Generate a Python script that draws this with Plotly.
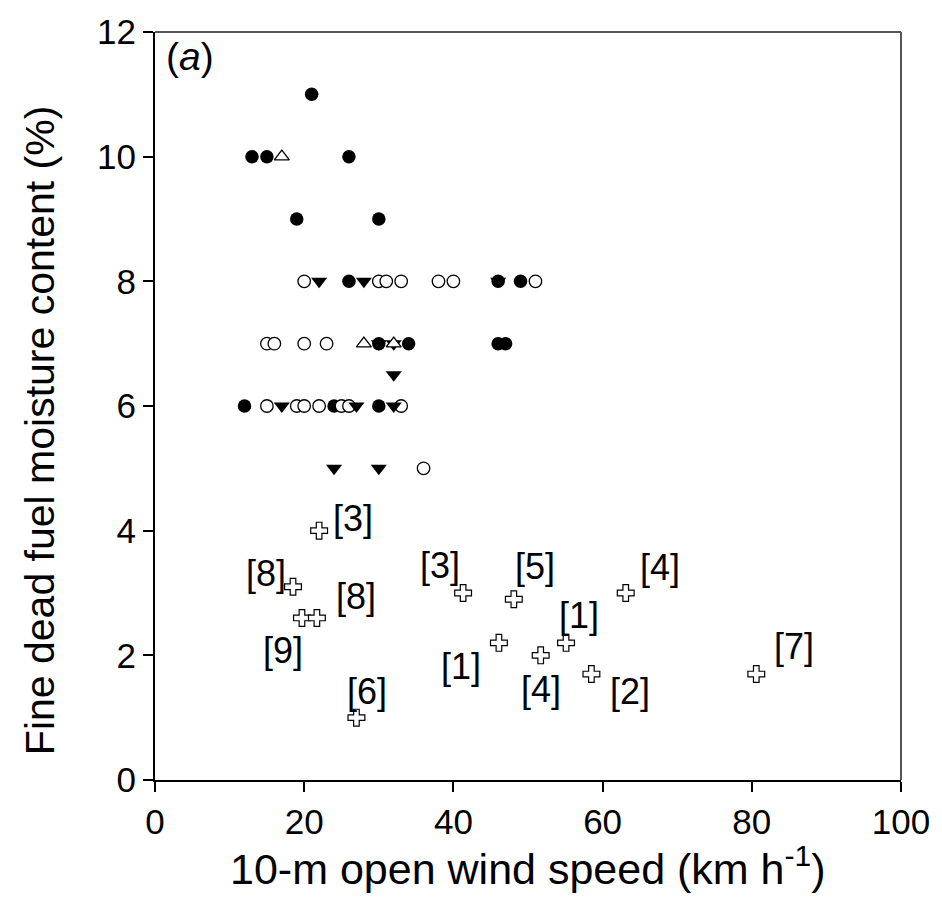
import plotly.graph_objects as go

# Filled circles
filled_x = [21, 13, 15, 26, 19, 30, 26, 46, 49, 30, 34, 46, 47, 12, 24, 30]
filled_y = [11, 10, 10, 10, 9, 9, 8, 8, 8, 7, 7, 7, 7, 6, 6, 6]

# Open circles
open_x = [20, 30, 31, 33, 38, 40, 51, 15, 16, 20, 23, 15, 19, 20, 22, 25, 26, 33, 36]
open_y = [8, 8, 8, 8, 8, 8, 8, 7, 7, 7, 7, 6, 6, 6, 6, 6, 6, 6, 5]

# Filled down-triangles
down_x = [22, 28, 46, 30, 32, 32, 17, 27, 32, 24, 30]
down_y = [8, 8, 8, 7, 7, 6.5, 6, 6, 6, 5, 5]

# Open up-triangles
up_x = [17, 28, 32]
up_y = [10, 7, 7]

# Crosses with reference labels
cross_x = [22, 18.5, 19.7, 21.7, 27, 41.3, 48.1, 63.1, 46.1, 51.7, 55.1, 58.5, 80.6]
cross_y = [4.0, 3.1, 2.6, 2.6, 1.0, 3.0, 2.9, 3.0, 2.2, 2.0, 2.2, 1.7, 1.7]
cross_labels = ["[3]", "[8]", "[9]", "[8]", "[6]", "[3]", "[5]", "[4]", "[1]", "[4]", "[1]", "[2]", "[7]"]

x_ticks = [0, 20, 40, 60, 80, 100]
y_ticks = [0, 2, 4, 6, 8, 10, 12]

x_title = "10-m open wind speed (km h<sup>-1</sup>)"
y_title = "Fine dead fuel moisture content (%)"

# label offsets in pixels (dx right, dy down)
label_offsets = [(34, -12), (-27, -13), (-19, 33), (39, -21), (11, -26), (-23, -28),
                 (21, -33), (34, -26), (-38, 24), (0, 34), (13, -27), (39, 17), (38, -28)]

FONT = "Liberation Sans, Arial, sans-serif"
L, R, T, B = 155, 36, 29, 139
W, H = 942, 919
PW, PH = W - L - R, H - T - B

fig = go.Figure()
fig.add_trace(go.Scatter(x=filled_x, y=filled_y, mode="markers",
                         marker=dict(symbol="circle", size=13.5, color="black",
                                     line=dict(width=0))))
fig.add_trace(go.Scatter(x=open_x, y=open_y, mode="markers",
                         marker=dict(symbol="circle", size=12.5, color="white",
                                     line=dict(width=1.3, color="black"))))
fig.add_trace(go.Scatter(x=down_x, y=down_y, mode="markers",
                         marker=dict(symbol="triangle-down", size=14, color="black",
                                     line=dict(width=0))))
fig.add_trace(go.Scatter(x=up_x, y=up_y, mode="markers",
                         marker=dict(symbol="triangle-up", size=13, color="white",
                                     line=dict(width=1.3, color="black"))))
fig.add_trace(go.Scatter(x=cross_x, y=cross_y, mode="markers",
                         marker=dict(symbol="cross", size=14, color="white",
                                     line=dict(width=1.2, color="black"))))

for xv, yv, lab, (dx, dy) in zip(cross_x, cross_y, cross_labels, label_offsets):
    fig.add_annotation(x=xv, y=yv, text=lab, showarrow=False, xshift=dx, yshift=-dy,
                       font=dict(family=FONT, size=36, color="black"))

fig.add_annotation(x=0.012, y=0.998, xref="paper", yref="paper", text="(<i>a</i>)",
                   showarrow=False, xanchor="left", yanchor="top",
                   font=dict(family=FONT, size=39, color="black"))

# axis titles
fig.add_annotation(x=(40 - L) / PW, y=(H - B - 429) / PH, xref="paper", yref="paper",
                   text=y_title, textangle=-90, showarrow=False,
                   xanchor="center", yanchor="middle",
                   font=dict(family=FONT, size=41, color="black"))
fig.add_annotation(x=(531 - L) / PW, y=(H - B - 866) / PH, xref="paper", yref="paper",
                   text=x_title, showarrow=False,
                   xanchor="center", yanchor="middle",
                   font=dict(family=FONT, size=43, color="black"))

# top and right frame lines (grey)
fig.add_shape(type="line", xref="paper", yref="paper", x0=0, x1=1, y0=1, y1=1,
              line=dict(color="#555555", width=2))
fig.add_shape(type="line", xref="paper", yref="paper", x0=1, x1=1, y0=0, y1=1,
              line=dict(color="#555555", width=2))

fig.update_layout(
    width=W, height=H,
    margin=dict(l=L, r=R, t=T, b=B),
    paper_bgcolor="white", plot_bgcolor="white",
    showlegend=False,
    font=dict(family=FONT, color="black"),
    xaxis=dict(range=[0, 100], tickvals=x_ticks, ticks="outside", ticklen=10, tickwidth=2,
               tickcolor="black", showline=True, linecolor="black", linewidth=2,
               showgrid=False, zeroline=False, tickfont=dict(size=35, family=FONT)),
    yaxis=dict(range=[0, 12], tickvals=y_ticks, ticks="outside", ticklen=10, tickwidth=2,
               tickcolor="black", showline=True, linecolor="black", linewidth=2,
               showgrid=False, zeroline=False, tickfont=dict(size=35, family=FONT)),
)

fig.write_html("out.html")
